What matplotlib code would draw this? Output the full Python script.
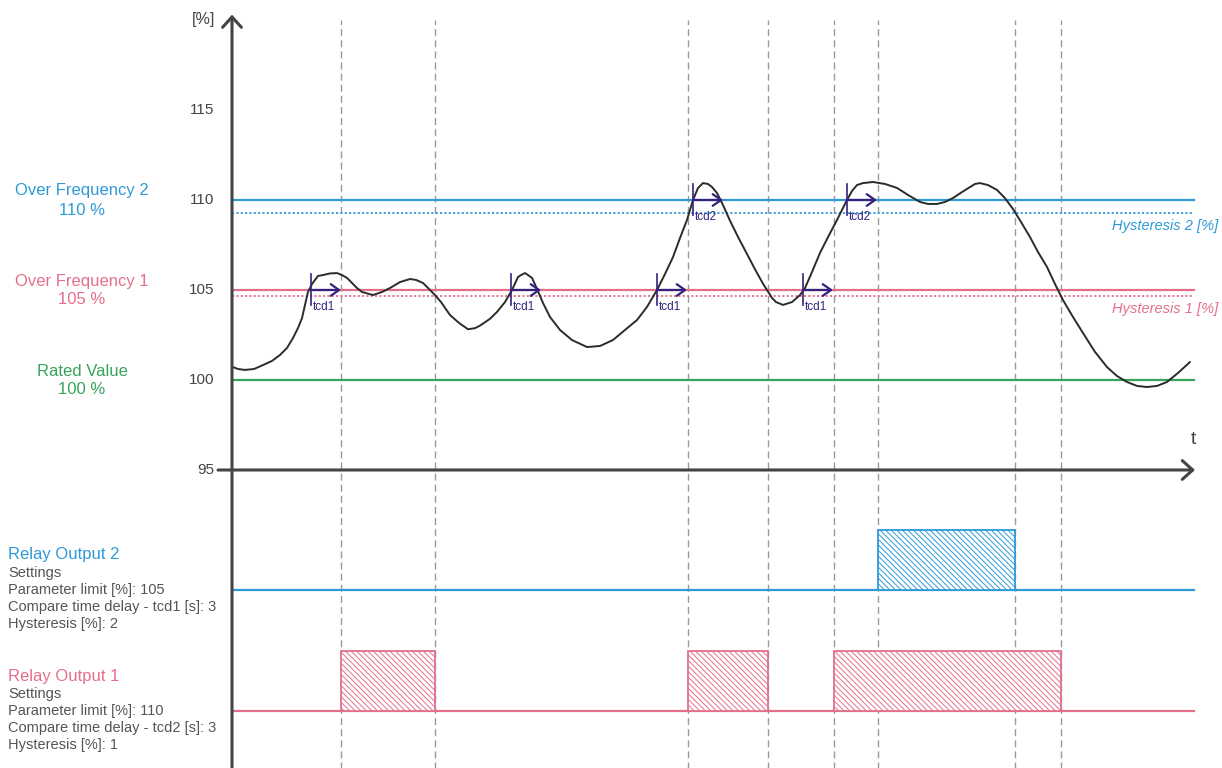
import matplotlib
matplotlib.use("Agg")
import matplotlib.pyplot as plt

plt.rcParams['font.family'] = ['Liberation Sans', 'DejaVu Sans']
plt.rcParams['hatch.linewidth'] = 0.7

# measured signal [%] over time [s]
time_s = [0.1, 0.6, 1.3, 2.2, 3.1, 4.0, 4.8, 5.5, 6.1, 6.6, 7.0, 7.3, 7.6, 8.0, 8.3,
          8.6, 9.1, 9.8, 10.5, 11.0, 11.5, 12.0, 12.5, 13.0, 14.1, 15.0, 15.8, 16.8,
          17.8, 18.4, 19.1, 19.7, 20.3, 20.9, 21.8, 22.7, 23.6, 24.3, 24.8, 25.8,
          26.5, 27.3, 28.0, 28.6, 28.9, 29.3, 29.6, 30.0, 30.5, 31.1, 31.8, 32.8,
          34.0, 35.5, 36.8, 38.1, 39.3, 40.5, 41.5, 42.5, 43.3, 44.1, 44.8, 45.5,
          46.1, 46.6, 47.1, 47.6, 48.0, 48.5, 49.1, 49.8, 50.6, 51.5, 52.3, 53.1,
          54.0, 54.4, 55.1, 56.0, 56.8, 57.3, 58.0, 58.8, 59.6, 60.5, 61.5, 62.0,
          62.5, 63.1, 64.1, 65.3, 66.5, 67.6, 68.8, 69.6, 70.5, 71.3, 72.1, 73.0,
          73.8, 74.3, 74.8, 75.6, 76.5, 77.3, 78.1, 78.9, 79.8, 80.6, 81.5, 82.3,
          83.1, 84.1, 85.1, 86.3, 87.5, 88.5, 89.5, 90.5, 91.5, 92.5, 93.5, 94.6,
          95.8]
signal = [100.72, 100.61, 100.56, 100.61, 100.83, 101.06, 101.39, 101.78, 102.33,
          102.89, 103.44, 104.17, 104.89, 105.33, 105.56, 105.78, 105.83, 105.92,
          105.94, 105.83, 105.67, 105.39, 105.11, 104.89, 104.72, 104.89, 105.11,
          105.44, 105.61, 105.56, 105.39, 105.06, 104.72, 104.33, 103.61, 103.17,
          102.82, 102.88, 103.02, 103.4, 103.78, 104.33, 105.0, 105.72, 105.83,
          105.94, 105.83, 105.67, 105.06, 104.28, 103.5, 102.78, 102.22, 101.83,
          101.89, 102.22, 102.78, 103.33, 104.06, 105.0, 105.89, 106.83, 107.89,
          108.89, 110.0, 110.67, 110.94, 110.89, 110.72, 110.39, 109.72, 108.85,
          107.95, 107.0, 106.15, 105.35, 104.56, 104.33, 104.17, 104.33, 104.72,
          105.11, 106.0, 107.06, 107.94, 108.89, 110.0, 110.5, 110.83, 110.94,
          111.0, 110.89, 110.67, 110.28, 109.89, 109.78, 109.78, 109.89, 110.11,
          110.44, 110.72, 110.89, 110.94, 110.83, 110.56, 110.1, 109.5, 108.78,
          107.94, 107.11, 106.28, 105.33, 104.44, 103.5, 102.61, 101.56, 100.72,
          100.22, 99.89, 99.67, 99.61, 99.67, 99.89, 100.39, 101.0]

y_ticks = [95, 100, 105, 110, 115]
rated = 100
limit_1, hyst_1 = 105, 104.65
limit_2, hyst_2 = 110, 109.3

# compare time delay starts
tcd1_starts = [7.9, 27.9, 42.5, 57.1]
tcd2_starts = [46.1, 61.5]
tcd_len = 3

events = [10.9, 20.3, 45.6, 53.6, 60.2, 64.6, 78.3, 82.9]
relay1_on = [(10.9, 20.3), (45.6, 53.6), (60.2, 82.9)]
relay2_on = [(64.6, 78.3)]
relay2_base, relay1_base, relay_high = 88.33, 81.61, 3.33

blue = '#2e9ad8'
pink = '#e3708b'
green = '#36a55a'
navy = '#33237f'
grey = '#444444'

fig = plt.figure(figsize=(12.22, 7.68), dpi=100)
ax = fig.add_axes([0, 0, 1, 1])
ax.set_xlim(-23.2, 99.0)
ax.set_ylim(78.444, 121.111)
ax.axis('off')

t_end = 96.2
for x in events:
    ax.plot([x, x], [78.4, 120], color='#9a9a9a', lw=1.0, ls=(0, (5, 3)), zorder=1)

ax.plot([0, t_end], [limit_2, limit_2], color=blue, lw=1.6, zorder=2)
ax.plot([0, t_end], [hyst_2, hyst_2], color=blue, lw=1.3, ls=(0, (1.2, 1.2)), zorder=2)
ax.plot([0, t_end], [limit_1, limit_1], color=pink, lw=1.6, zorder=2)
ax.plot([0, t_end], [hyst_1, hyst_1], color=pink, lw=1.3, ls=(0, (1.2, 1.2)), zorder=2)
ax.plot([0, t_end], [rated, rated], color=green, lw=1.6, zorder=2)

ax.plot(time_s, signal, color='#2b2b2b', lw=1.4, zorder=4,
        solid_joinstyle='round', solid_capstyle='round')

# axes with arrows
arrow = dict(arrowstyle='->,head_length=0.5,head_width=0.45', lw=2.2, color=grey,
             mutation_scale=15, shrinkA=0, shrinkB=0)
ax.annotate('', xy=(0, 120.3), xytext=(0, 78.3), arrowprops=arrow, zorder=5)
ax.annotate('', xy=(96.3, 95), xytext=(-1.4, 95), arrowprops=arrow, zorder=5)
for v in y_ticks:
    ax.text(-1.8, v, str(v), ha='right', va='center', fontsize=11, color=grey)
ax.text(-1.7, 120.0, '[%]', ha='right', va='center', fontsize=11.5, color=grey)
ax.text(96.1, 96.7, 't', ha='center', va='center', fontsize=14, color=grey)

# tcd markers
for starts, level, name in [(tcd1_starts, limit_1, 'tcd1'), (tcd2_starts, limit_2, 'tcd2')]:
    for x in starts:
        ax.plot([x, x], [level + 0.9, level - 0.85], color=navy, lw=1.2, zorder=6)
        ax.annotate('', xy=(x + tcd_len, level), xytext=(x, level),
                    arrowprops=dict(arrowstyle='->,head_length=0.5,head_width=0.35',
                                    lw=1.6, color=navy, mutation_scale=12,
                                    shrinkA=0, shrinkB=0), zorder=6)
        ax.text(x + 0.15, level - 0.95, name, ha='left', va='center', fontsize=8.5,
                color=navy, zorder=6)

# relay outputs
ax.plot([0, t_end], [relay2_base, relay2_base], color=blue, lw=1.6, zorder=2)
ax.plot([0, t_end], [relay1_base, relay1_base], color=pink, lw=1.6, zorder=2)
for a, b in relay2_on:
    ax.bar(a, relay_high, width=b - a, bottom=relay2_base, align='edge',
           facecolor='white', edgecolor=blue, hatch='\\\\\\\\\\\\', lw=1.3, zorder=3)
for a, b in relay1_on:
    ax.bar(a, relay_high, width=b - a, bottom=relay1_base, align='edge',
           facecolor='white', edgecolor=pink, hatch='\\\\\\\\\\\\', lw=1.3, zorder=3)

# left labels
ax.text(-15.0, 110.5, 'Over Frequency 2', ha='center', va='center', fontsize=12, color=blue)
ax.text(-15.0, 109.4, '110 %', ha='center', va='center', fontsize=12, color=blue)
ax.text(-15.0, 105.45, 'Over Frequency 1', ha='center', va='center', fontsize=12, color=pink)
ax.text(-15.0, 104.45, '105 %', ha='center', va='center', fontsize=12, color=pink)
ax.text(-15.0, 100.45, 'Rated Value', ha='center', va='center', fontsize=12, color=green)
ax.text(-15.0, 99.45, '100 %', ha='center', va='center', fontsize=12, color=green)

ax.text(98.6, 109.27 - 0.7, 'Hysteresis 2 [%]', ha='right', va='center', fontsize=10.5,
        style='italic', color=blue)
ax.text(98.6, 104.65 - 0.7, 'Hysteresis 1 [%]', ha='right', va='center', fontsize=10.5,
        style='italic', color=pink)

relay2_text = ['Settings', 'Parameter limit [%]: 105', 'Compare time delay - tcd1 [s]: 3',
               'Hysteresis [%]: 2']
relay1_text = ['Settings', 'Parameter limit [%]: 110', 'Compare time delay - tcd2 [s]: 3',
               'Hysteresis [%]: 1']
ax.text(-22.4, 90.28, 'Relay Output 2', ha='left', va='center', fontsize=12, color=blue)
for i, s in enumerate(relay2_text):
    ax.text(-22.4, 89.28 - i * 0.945, s, ha='left', va='center', fontsize=10.5, color='#555555')
ax.text(-22.4, 83.5, 'Relay Output 1', ha='left', va='center', fontsize=12, color=pink)
for i, s in enumerate(relay1_text):
    ax.text(-22.4, 82.56 - i * 0.945, s, ha='left', va='center', fontsize=10.5, color='#555555')

fig.savefig('out.png', dpi=100)
